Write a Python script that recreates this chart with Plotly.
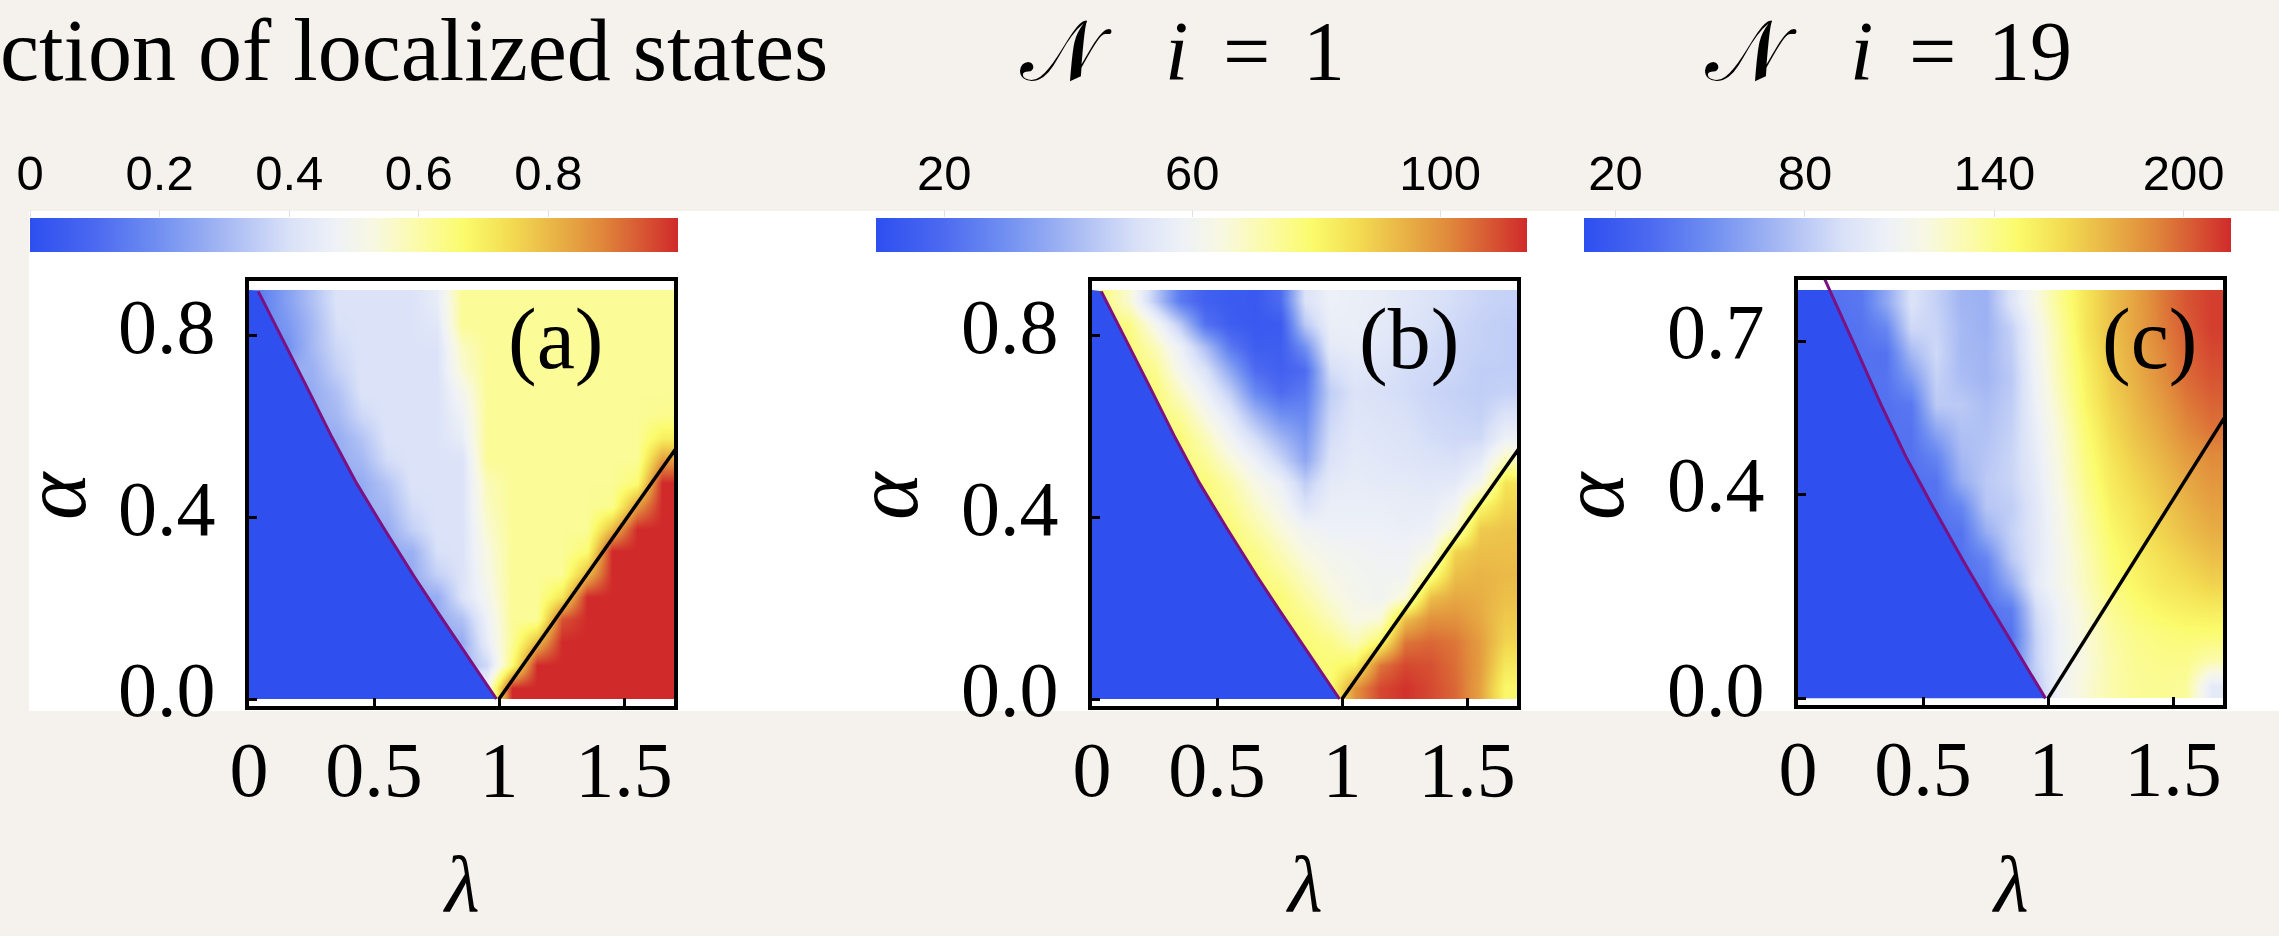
import numpy as np
import plotly.graph_objects as go

W, H = 2279, 936

# ---- grid (cell centres) ----
lam = [0.05, 0.15, 0.25, 0.35, 0.45, 0.55, 0.65, 0.75, 0.85, 0.95,
       1.05, 1.15, 1.25, 1.35, 1.45, 1.55, 1.65]
alpha_ab = [0.025, 0.075, 0.125, 0.175, 0.225, 0.275, 0.325, 0.375, 0.425,
            0.475, 0.525, 0.575, 0.625, 0.675, 0.725, 0.775, 0.825, 0.875]
alpha_c = [0.025, 0.075, 0.125, 0.175, 0.225, 0.275, 0.325, 0.375,
           0.425, 0.475, 0.525, 0.575, 0.625, 0.675, 0.725, 0.775]

# ---- (a) fraction of localized states, rows from alpha=0.025 upwards ----
frac_loc = [
    [0, 0, 0, 0, 0, 0, 0, 0, 0.5, 0.5, 1, 1, 1, 1, 1, 1, 1],
    [0, 0, 0, 0, 0, 0, 0, 0.3, 0.3, 0.38, 0.66, 1, 1, 1, 1, 1, 1],
    [0, 0, 0, 0, 0, 0, 0.27, 0.27, 0.27, 0.45, 0.62, 0.8, 1, 1, 1, 1, 1],
    [0, 0, 0, 0, 0, 0, 0.27, 0.27, 0.32, 0.47, 0.62, 0.62, 0.95, 1, 1, 1, 1],
    [0, 0, 0, 0, 0, 0.27, 0.27, 0.27, 0.41, 0.5, 0.62, 0.62, 0.72, 1, 1, 1, 1],
    [0, 0, 0, 0, 0, 0.27, 0.27, 0.36, 0.41, 0.52, 0.62, 0.62, 0.62, 0.8, 1, 1, 1],
    [0, 0, 0, 0, 0.27, 0.27, 0.28, 0.4, 0.41, 0.53, 0.62, 0.62, 0.62, 0.66, 1, 1, 1],
    [0, 0, 0, 0.27, 0.27, 0.27, 0.36, 0.41, 0.41, 0.55, 0.62, 0.62, 0.62, 0.62, 0.8, 1, 1],
    [0, 0, 0, 0.27, 0.27, 0.3, 0.39, 0.41, 0.41, 0.57, 0.62, 0.62, 0.62, 0.62, 0.63, 0.85, 1],
    [0, 0, 0.27, 0.27, 0.27, 0.33, 0.41, 0.41, 0.41, 0.58, 0.62, 0.62, 0.62, 0.62, 0.62, 0.66, 1],
    [0, 0, 0.27, 0.27, 0.3, 0.39, 0.41, 0.41, 0.41, 0.62, 0.62, 0.62, 0.62, 0.62, 0.62, 0.62, 0.85],
    [0, 0.27, 0.27, 0.27, 0.33, 0.41, 0.41, 0.41, 0.45, 0.62, 0.62, 0.62, 0.62, 0.62, 0.62, 0.62, 0.7],
    [0, 0.27, 0.27, 0.3, 0.38, 0.41, 0.41, 0.41, 0.47, 0.62, 0.62, 0.62, 0.62, 0.62, 0.62, 0.62, 0.63],
    [0.27, 0.27, 0.27, 0.32, 0.41, 0.41, 0.41, 0.41, 0.5, 0.62, 0.62, 0.62, 0.62, 0.62, 0.62, 0.62, 0.62],
    [0.27, 0.27, 0.28, 0.36, 0.41, 0.41, 0.41, 0.41, 0.55, 0.62, 0.62, 0.62, 0.62, 0.62, 0.62, 0.62, 0.62],
    [0.2, 0.2, 0.3, 0.38, 0.41, 0.41, 0.41, 0.41, 0.57, 0.62, 0.62, 0.62, 0.62, 0.62, 0.62, 0.62, 0.62],
    [0.18, 0.22, 0.3, 0.4, 0.41, 0.41, 0.41, 0.43, 0.62, 0.62, 0.62, 0.62, 0.62, 0.62, 0.62, 0.62, 0.62],
    [0.16, 0.24, 0.32, 0.41, 0.41, 0.41, 0.41, 0.45, 0.62, 0.62, 0.62, 0.62, 0.62, 0.62, 0.62, 0.62, 0.62],
]

# ---- (b) N for i = 1 ----
n_i1 = [
    [12, 12, 12, 12, 12, 12, 12, 12, 78, 78, 100, 110, 113, 110, 106, 97, 80],
    [12, 12, 12, 12, 12, 12, 12, 78, 78, 78, 82, 104, 110, 109, 105, 98, 84],
    [12, 12, 12, 12, 12, 12, 78, 78, 78, 76, 70, 80, 104, 106, 104, 98, 88],
    [12, 12, 12, 12, 12, 12, 78, 78, 76, 70, 64, 66, 92, 100, 100, 96, 90],
    [12, 12, 12, 12, 12, 78, 78, 78, 72, 66, 62, 60, 66, 92, 96, 95, 92],
    [12, 12, 12, 12, 12, 78, 78, 74, 68, 63, 61, 60, 60, 75, 92, 94, 93],
    [12, 12, 12, 12, 78, 78, 76, 70, 64, 61, 60, 59, 59, 63, 88, 92, 92],
    [12, 12, 12, 78, 78, 78, 72, 66, 60, 58, 58, 58, 57, 58, 68, 90, 91],
    [12, 12, 12, 78, 78, 75, 68, 62, 52, 57, 57, 57, 56, 56, 60, 80, 88],
    [12, 12, 78, 78, 78, 72, 64, 58, 46, 55, 56, 55, 55, 54, 55, 62, 85],
    [12, 12, 78, 78, 74, 66, 58, 48, 36, 52, 55, 54, 53, 52, 51, 55, 70],
    [12, 78, 78, 78, 70, 60, 50, 40, 32, 50, 54, 53, 52, 50, 49, 49, 58],
    [12, 78, 78, 74, 64, 54, 40, 30, 28, 48, 53, 52, 51, 49, 48, 47, 52],
    [78, 78, 78, 68, 58, 46, 28, 20, 24, 46, 52, 51, 50, 48, 47, 46, 47],
    [78, 78, 75, 62, 52, 36, 20, 16, 20, 50, 54, 52, 50, 49, 48, 46, 46],
    [78, 78, 70, 58, 42, 24, 15, 15, 30, 55, 56, 54, 52, 50, 48, 47, 46],
    [78, 76, 62, 45, 22, 15, 13, 14, 45, 57, 57, 55, 53, 51, 49, 47, 46],
    [76, 66, 45, 24, 16, 14, 13, 20, 52, 58, 57, 56, 54, 52, 50, 48, 47],
]

# ---- (c) N for i = 19 ----
n_i19 = [
    [12, 12, 12, 12, 12, 12, 12, 12, 80, 80, 110, 122, 132, 137, 138, 136, 100],
    [12, 12, 12, 12, 12, 12, 12, 40, 40, 85, 108, 120, 132, 138, 140, 140, 132],
    [12, 12, 12, 12, 12, 12, 35, 35, 35, 85, 108, 122, 134, 140, 143, 145, 145],
    [12, 12, 12, 12, 12, 12, 35, 35, 41, 90, 110, 124, 138, 145, 150, 153, 155],
    [12, 12, 12, 12, 12, 35, 35, 38, 64, 100, 114, 128, 142, 150, 156, 160, 165],
    [12, 12, 12, 12, 12, 35, 35, 45, 80, 98, 114, 130, 145, 153, 160, 166, 172],
    [12, 12, 12, 12, 35, 35, 36, 66, 84, 98, 116, 133, 148, 157, 165, 172, 178],
    [12, 12, 12, 35, 35, 35, 45, 78, 82, 98, 117, 136, 152, 160, 168, 176, 182],
    [12, 12, 12, 35, 35, 36, 66, 80, 86, 100, 120, 140, 155, 164, 172, 180, 186],
    [12, 12, 35, 35, 35, 45, 72, 78, 86, 102, 122, 143, 158, 168, 176, 184, 190],
    [12, 12, 35, 35, 36, 62, 76, 76, 84, 104, 124, 146, 162, 172, 180, 190, 196],
    [12, 35, 35, 35, 38, 80, 80, 74, 82, 106, 128, 150, 165, 175, 184, 194, 200],
    [12, 35, 35, 36, 55, 84, 74, 70, 80, 108, 132, 152, 168, 178, 188, 198, 204],
    [35, 35, 35, 35, 71, 88, 72, 70, 82, 110, 134, 155, 170, 180, 190, 200, 207],
    [35, 35, 36, 46, 88, 86, 72, 68, 84, 112, 136, 158, 172, 182, 193, 202, 210],
    [35, 35, 38, 63, 94, 84, 70, 68, 95, 118, 140, 158, 172, 182, 194, 204, 210],
]

# ---- phase boundaries ----
purple_lam = [0.037, 0.128, 0.228, 0.328, 0.43, 0.54, 0.66, 0.75, 0.835, 0.915, 0.99]
purple_alpha = [0.897, 0.80, 0.69, 0.58, 0.475, 0.375, 0.27, 0.195, 0.125, 0.06, 0.0]
black_lam = [1.0, 1.71]
black_alpha = [0.0, 0.553]

# ---- colour-bar ranges and ticks ----
cb_a_range, cb_a_ticks = [0.0, 1.0], [0, 0.2, 0.4, 0.6, 0.8]
cb_a_text = ["0", "0.2", "0.4", "0.6", "0.8"]
cb_b_range, cb_b_ticks = [9, 114], [20, 60, 100]
cb_c_range, cb_c_ticks = [10, 215], [20, 80, 140, 200]

x_ticks, x_ticktext = [0, 0.5, 1, 1.5], ["0", "0.5", "1", "1.5"]
y_ticks_ab = [0, 0.4, 0.8]
y_ticks_c = [0, 0.4, 0.7]

TEMP = [[0.00, '#2d4ff0'], [0.10, '#4b69f0'], [0.20, '#7190f1'], [0.30, '#a5b8f3'],
        [0.40, '#d9e1f8'], [0.47, '#eef1f7'], [0.53, '#f8f8e2'], [0.60, '#fbfba8'],
        [0.67, '#fbfb6c'], [0.74, '#f3dc52'], [0.81, '#e9b446'], [0.88, '#e0893b'],
        [0.94, '#d85a34'], [1.00, '#d02a2a']]
DEEP_BLUE = '#2f50ee'
EDGE_PURPLE = '#7c1281'

BEIGE = '#f5f2ee'
SERIF = 'Liberation Serif, DejaVu Serif, serif'
SANS = 'Liberation Sans, Arial, sans-serif'


def fx(p):
    return p / W


def fy(p):
    return 1 - p / H


# panel frames in pixels: (left, right, top, bottom)
frames = {
    'a': (249, 674, 281, 706),
    'b': (1092, 1517, 281, 706),
    'c': (1798, 2223, 280, 705),
}
# colour bars in pixels: (left, right, top, bottom)
bars = {
    'a': (30, 678, 218, 252),
    'b': (876, 1527, 218, 252),
    'c': (1584, 2231, 218, 252),
}

fig = go.Figure()

panels = [
    ('a', frac_loc, alpha_ab, cb_a_range, '', ''),
    ('b', n_i1, alpha_ab, cb_b_range, '2', '2'),
    ('c', n_i19, alpha_c, cb_c_range, '3', '3'),
]

for key, z, al, rng, xs, ys in panels:
    l, r, t, b = bars[key]
    fig.add_trace(go.Heatmap(
        x=lam, y=al, z=z, zmin=rng[0], zmax=rng[1], zsmooth='best',
        colorscale=TEMP, xaxis='x' + xs, yaxis='y' + ys, hoverinfo='skip',
        colorbar=dict(orientation='h', x=fx(l), xanchor='left', y=fy(t), yanchor='top',
                      len=r - l, lenmode='pixels', thickness=b - t, thicknessmode='pixels',
                      xpad=0, ypad=0, outlinewidth=0, showticklabels=False, ticks=''),
    ))
    # localized (deep blue) side of the mobility edge
    top = al[-1] + (al[1] - al[0]) / 2
    pts = [(x, y) for x, y in zip(purple_lam, purple_alpha) if y <= top]
    fig.add_trace(go.Scatter(
        x=[0] + [p[0] for p in pts] + [0], y=[top] + [p[1] for p in pts] + [0],
        fill='toself', fillcolor=DEEP_BLUE, mode='none',
        xaxis='x' + xs, yaxis='y' + ys, hoverinfo='skip', showlegend=False))
    fig.add_trace(go.Scatter(x=purple_lam, y=purple_alpha, mode='lines',
                             line=dict(color=EDGE_PURPLE, width=3),
                             xaxis='x' + xs, yaxis='y' + ys, hoverinfo='skip', showlegend=False))
    fig.add_trace(go.Scatter(x=black_lam, y=black_alpha, mode='lines',
                             line=dict(color='black', width=3.5),
                             xaxis='x' + xs, yaxis='y' + ys, hoverinfo='skip', showlegend=False))

# invisible anchors for the colour-bar label axes
cb_axes = [('a', cb_a_range, '4'), ('b', cb_b_range, '5'), ('c', cb_c_range, '6')]
for key, rng, n in cb_axes:
    fig.add_trace(go.Scatter(x=rng, y=[0, 0], mode='markers', marker=dict(opacity=0),
                             xaxis='x' + n, yaxis='y' + n, hoverinfo='skip', showlegend=False))

layout = dict(
    width=W, height=H, margin=dict(l=0, r=0, t=0, b=0, autoexpand=False),
    paper_bgcolor=BEIGE, plot_bgcolor='white', showlegend=False,
)

frame_axis = dict(showline=True, linewidth=4, linecolor='black', mirror=True,
                  ticks='inside', ticklen=8, tickwidth=3, tickcolor='black',
                  showgrid=False, zeroline=False, automargin=False,
                  tickfont=dict(family=SERIF, size=78, color='black'))

y_ranges = {'a': [-0.0154, 0.9198], 'b': [-0.0154, 0.9198], 'c': [-0.013, 0.8196]}
y_tickvals = {'a': y_ticks_ab, 'b': y_ticks_ab, 'c': y_ticks_c}
for key, _, _, _, xs, ys in panels:
    l, r, t, b = frames[key]
    layout['xaxis' + xs] = dict(frame_axis, domain=[fx(l), fx(r)], range=[0, 1.7],
                                anchor='y' + ys, tickvals=x_ticks, ticktext=x_ticktext,
                                ticklabelstandoff=-8)
    layout['yaxis' + ys] = dict(frame_axis, domain=[fy(b), fy(t)], range=y_ranges[key],
                                anchor='x' + xs, tickvals=y_tickvals[key], tickformat='.1f',
                                ticklabelstandoff=14, ticklabelshift=-10)

cb_ticks = {'a': (cb_a_ticks, cb_a_text), 'b': (cb_b_ticks, [str(v) for v in cb_b_ticks]),
            'c': (cb_c_ticks, [str(v) for v in cb_c_ticks])}
for key, rng, n in cb_axes:
    l, r, t, b = bars[key]
    tv, tt = cb_ticks[key]
    layout['xaxis' + n] = dict(domain=[fx(l), fx(r)], range=rng, anchor='y' + n, side='top',
                               tickvals=tv, ticktext=tt, ticks='outside', ticklen=7,
                               tickwidth=1, tickcolor='#e2e2e2', showline=False,
                               showgrid=False, zeroline=False, ticklabelstandoff=0,
                               automargin=False,
                               tickfont=dict(family=SANS, size=49, color='black'))
    layout['yaxis' + n] = dict(domain=[fy(b), fy(t)], range=[-1, 1], anchor='x' + n,
                               visible=False, automargin=False)

# white backing panel behind the plots
layout['shapes'] = [dict(type='rect', xref='paper', yref='paper', x0=fx(29), x1=1,
                         y0=fy(711), y1=fy(211), fillcolor='white', line=dict(width=0),
                         layer='below')]

ann = []


def text(x, y, s, size, family=SERIF, xanchor='center', angle=0):
    ann.append(dict(x=fx(x), y=fy(y), xref='paper', yref='paper', text=s, showarrow=False,
                    xanchor=xanchor, yanchor='middle', textangle=angle,
                    font=dict(family=family, size=size, color='black')))


# titles
text(-2, 50, 'ction of localized states', 88, xanchor='left')
for parts in [[(1066, '𝒩'), (1176, '<i>i</i>'), (1246, '='), (1324, '1')],
              [(1751, '𝒩'), (1861, '<i>i</i>'), (1932, '='), (2030, '19')]]:
    for x, s in parts:
        text(x, 51, s, 84)

# panel tags
for key, x in [('a', 555), ('b', 1409), ('c', 2149)]:
    text(x, 339, '(' + key + ')', 86)

# axis titles
alpha_x = {'a': 54, 'b': 886, 'c': 1592}
for key in ['a', 'b', 'c']:
    l, r, t, b = frames[key]
    text((l + r) / 2, 884, '<i>λ</i>', 80)
    text(alpha_x[key], 496, '<i>α</i>', 90, angle=-90)

layout['annotations'] = ann
fig.update_layout(**layout)
fig.write_html('out.html')
